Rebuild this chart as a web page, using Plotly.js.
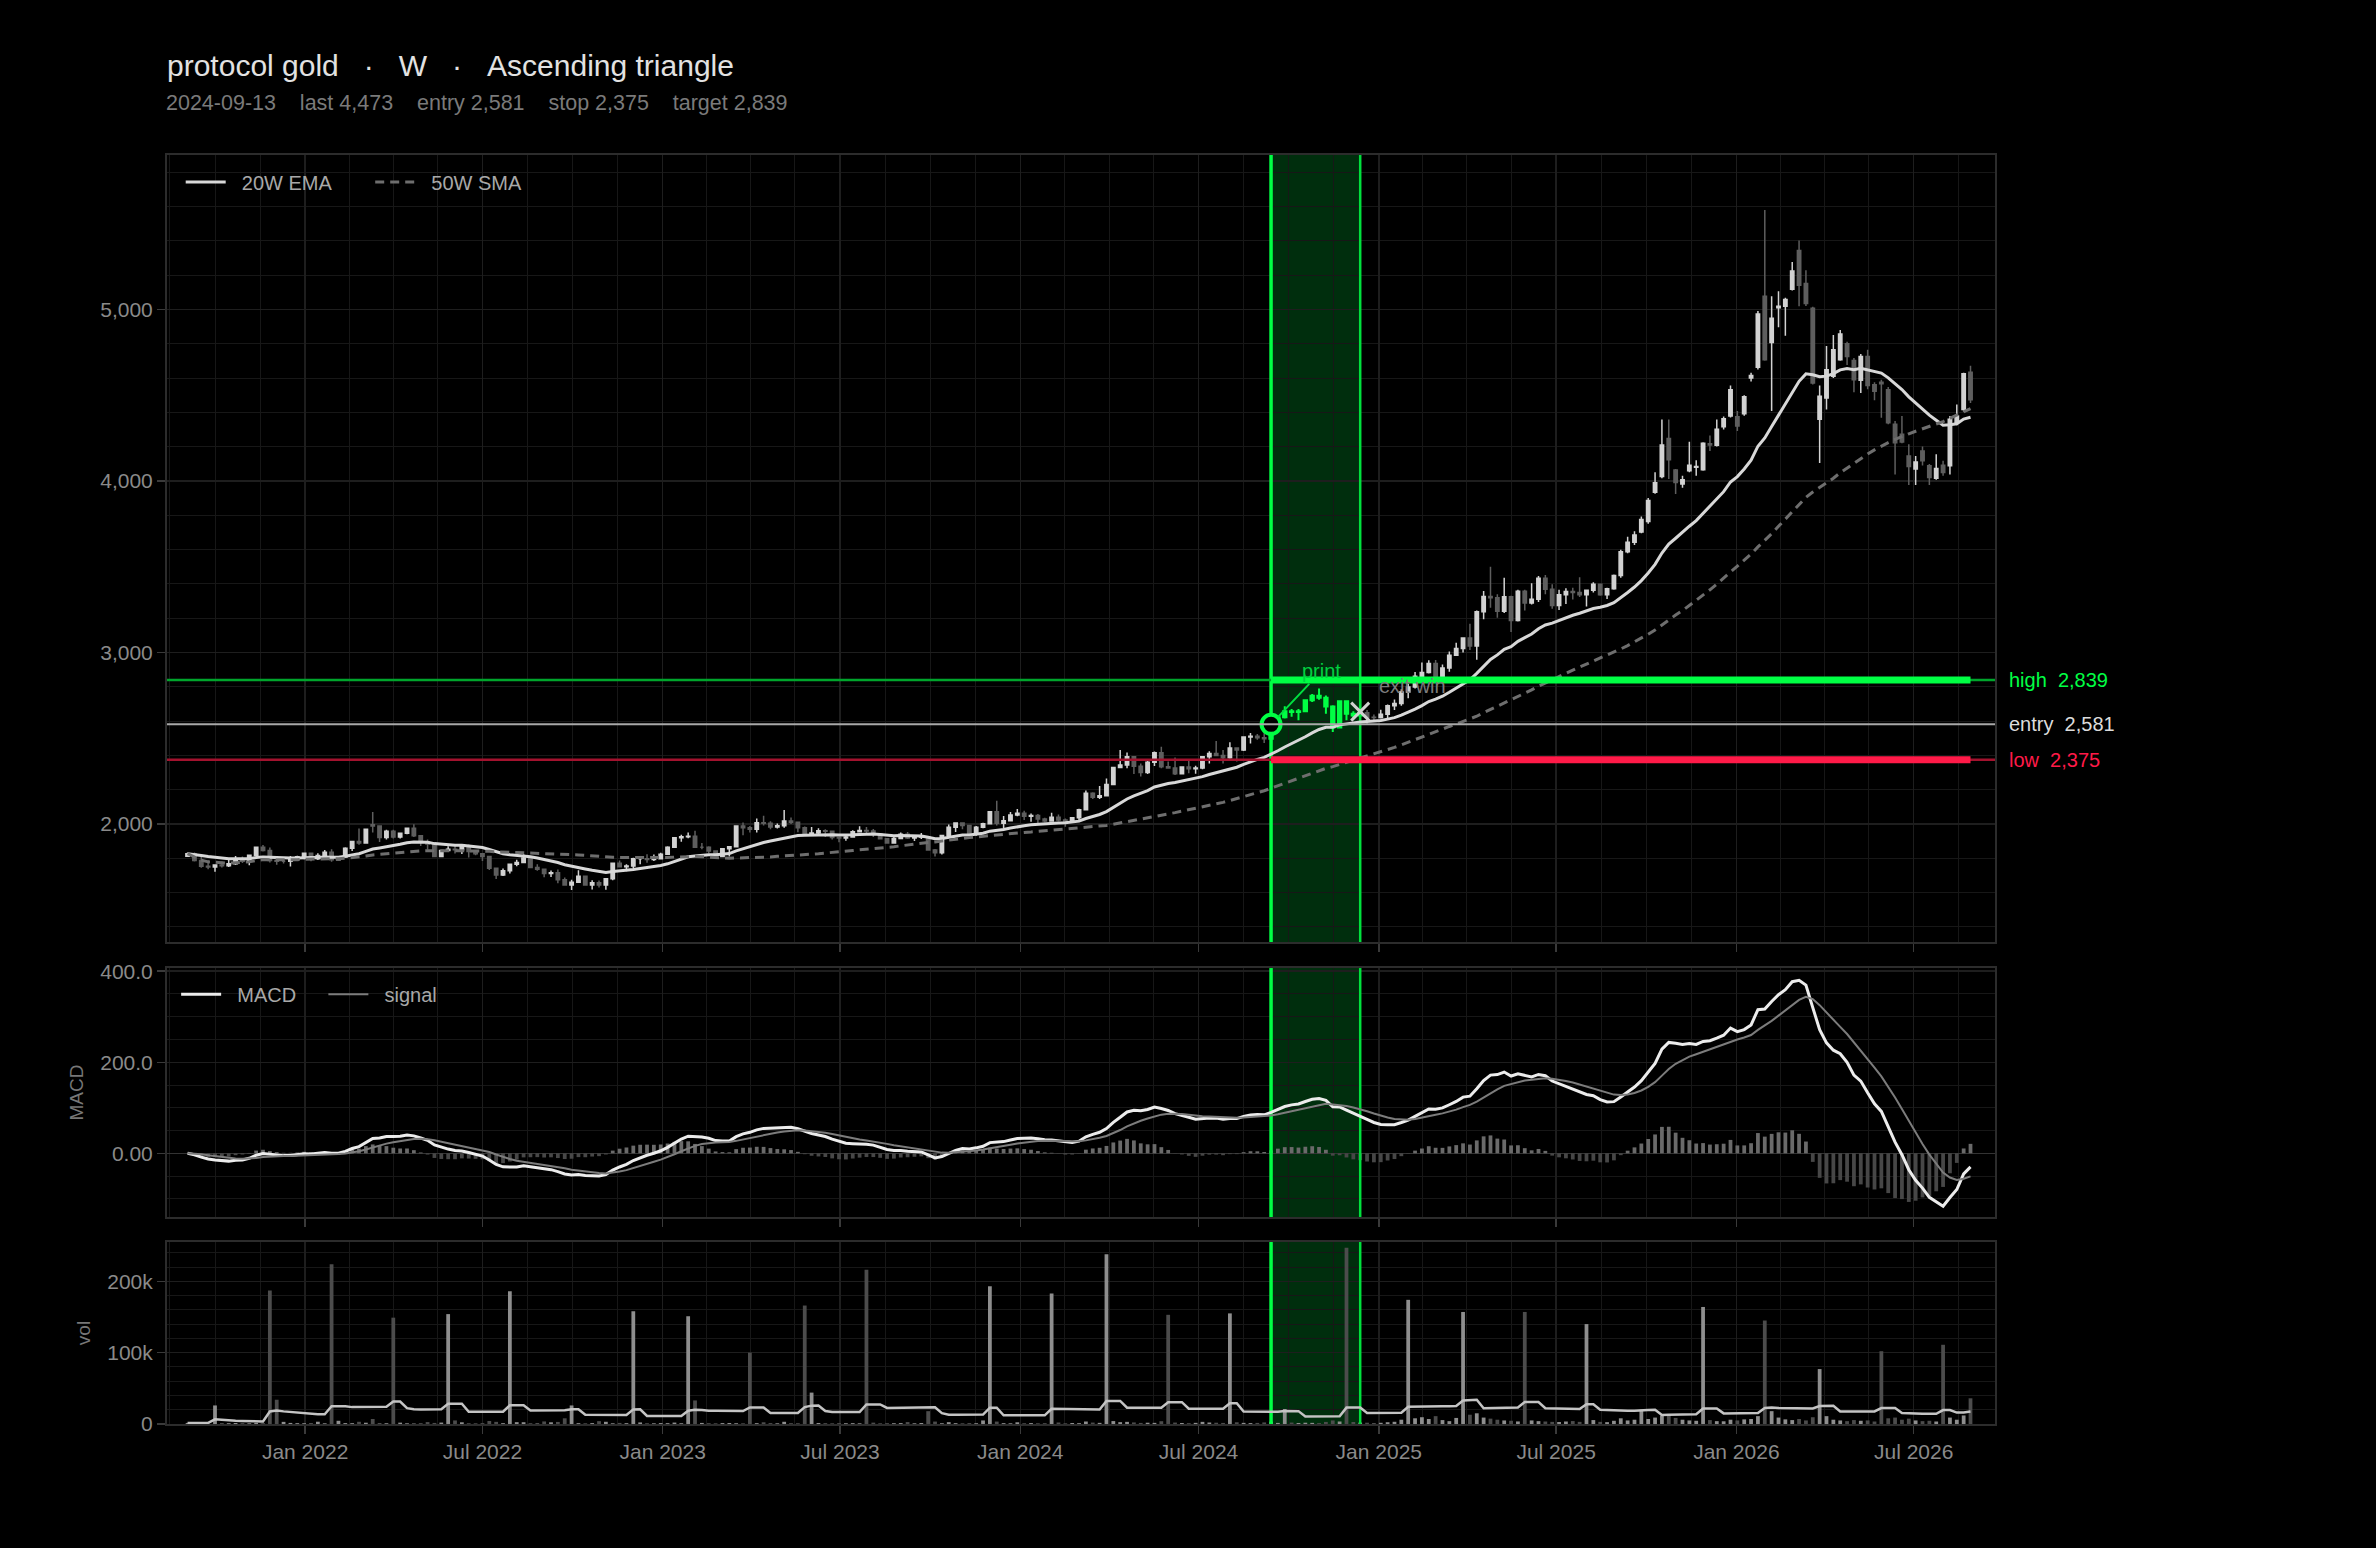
<!DOCTYPE html>
<html>
<head>
<meta charset="utf-8">
<script src="https://cdn.plot.ly/plotly-3.0.1.min.js"></script>
<style>
html,body{margin:0;padding:0;background:#000;}
#chart{width:2376px;height:1548px;}
</style>
</head>
<body>
<div id="chart"></div>
<script>
// ---------------- data (weekly bars, first bar 2021-09-03) ----------------
const START_DATE = '2021-09-03';
const SYMBOL = 'protocol gold';
const TIMEFRAME = 'W';
const PATTERN = 'Ascending triangle';
const ENTRY_DATE = '2024-09-13';
const EXIT_DATE = '2024-12-13';
const ENTRY = 2581, STOP = 2375, TARGET = 2839, EXIT_PRICE = 2655, LAST = 4473;

const open = [
1812,1827,1787,1754,1750,1761,1757,1768,1793,1783,
1818,1865,1846,1788,1783,1783,1798,1809,1829,1797,
1817,1835,1791,1808,1859,1898,1889,1996,1988,1921,
1958,1925,1946,1975,1931,1896,1883,1811,1846,1853,
1850,1871,1840,1827,1811,1742,1703,1727,1766,1775,
1802,1747,1737,1712,1716,1675,1644,1661,1695,1644,
1657,1644,1681,1771,1751,1755,1797,1797,1793,1798,
1824,1865,1920,1926,1928,1865,1865,1842,1811,1856,
1868,1989,1978,1969,2007,2004,1983,1990,2017,2011,
1978,1946,1948,1961,1958,1921,1919,1925,1955,1962,
1959,1943,1914,1889,1915,1940,1919,1924,1925,1848,
1833,1933,1981,2006,1992,1940,1981,2002,2072,2005,
2019,2053,2063,2045,2049,2029,2018,2039,2024,2013,
2036,2083,2179,2156,2165,2230,2329,2344,2392,2337,
2301,2360,2415,2334,2327,2293,2333,2322,2326,2392,
2411,2400,2386,2443,2431,2507,2512,2503,2497,2581,
2622,2658,2653,2657,2721,2747,2736,2685,2563,2715,
2643,2633,2648,2622,2621,2640,2690,2702,2770,2798,
2861,2883,2936,2858,2910,2984,3023,3085,3037,3237,
3327,3319,3241,3325,3187,3357,3289,3310,3432,3368,
3274,3337,3355,3350,3337,3363,3398,3336,3371,3448,
3587,3643,3702,3763,3934,4026,4248,4063,3982,4059,
4080,4065,4217,4208,4316,4378,4374,4391,4600,4662,
5077,4807,5010,5019,5118,5344,5151,5006,4359,4484,
4610,4706,4799,4702,4587,4726,4561,4575,4532,4330,
4272,4146,4069,4175,4088,4015,4092,4088,4339,4417,
4633];

const high = [
1834,1834,1808,1787,1765,1782,1801,1814,1810,1823,
1868,1877,1863,1793,1792,1814,1815,1831,1830,1829,
1848,1853,1810,1865,1902,1974,1974,2070,1990,1966,
1966,1949,1980,1998,1936,1910,1886,1850,1870,1875,
1876,1880,1848,1830,1812,1745,1740,1767,1792,1824,
1803,1765,1740,1729,1735,1688,1675,1730,1697,1672,
1671,1682,1773,1787,1765,1804,1800,1824,1823,1833,
1870,1922,1937,1950,1960,1890,1870,1845,1859,1870,
1990,2009,1988,2032,2048,2016,2003,2081,2038,2014,
1985,1983,1975,1970,1959,1925,1935,1963,1987,1982,
1971,1948,1916,1926,1950,1953,1933,1947,1927,1855,
1935,1997,2009,2008,1993,1988,2008,2075,2135,2047,
2070,2088,2078,2062,2058,2036,2065,2055,2032,2041,
2089,2195,2185,2222,2265,2331,2432,2417,2394,2353,
2378,2422,2450,2364,2388,2335,2368,2340,2392,2424,
2484,2432,2477,2448,2509,2531,2525,2529,2586,2626,
2686,2670,2670,2725,2758,2790,2749,2692,2721,2721,
2657,2726,2664,2638,2666,2697,2726,2786,2817,2886,
2942,2955,2956,2930,3005,3057,3087,3168,3245,3358,
3500,3340,3435,3330,3366,3365,3403,3446,3451,3398,
3365,3375,3377,3438,3363,3409,3400,3378,3454,3599,
3675,3707,3792,3900,4050,4358,4358,4070,4030,4229,
4120,4225,4265,4358,4375,4556,4407,4500,4630,4990,
5580,5077,5106,5068,5276,5402,5228,5016,4556,4787,
4851,4880,4812,4716,4740,4764,4575,4590,4548,4350,
4378,4214,4146,4200,4098,4156,4117,4378,4445,4630,
4672];

const low = [
1808,1782,1745,1737,1722,1746,1750,1761,1772,1759,
1814,1840,1776,1762,1770,1753,1794,1795,1783,1790,
1806,1780,1788,1806,1842,1879,1885,1950,1895,1910,
1915,1915,1940,1925,1872,1850,1808,1807,1845,1828,
1825,1805,1818,1785,1732,1680,1697,1711,1754,1771,
1745,1727,1689,1691,1654,1640,1615,1660,1640,1618,
1630,1617,1672,1750,1724,1741,1765,1774,1785,1795,
1822,1863,1897,1917,1862,1853,1830,1804,1809,1810,
1867,1934,1950,1950,1992,1970,1974,1978,2000,1952,
1932,1940,1938,1925,1910,1893,1902,1920,1952,1942,
1925,1910,1885,1885,1912,1913,1901,1913,1846,1810,
1823,1920,1953,1970,1932,1931,1975,2001,1992,1973,
2016,2045,2024,2013,2002,2011,2017,2016,1984,2010,
2024,2080,2146,2146,2160,2228,2325,2325,2292,2277,
2292,2338,2325,2322,2286,2292,2296,2293,2319,2353,
2398,2353,2380,2364,2426,2470,2491,2472,2472,2546,
2615,2625,2605,2651,2711,2725,2643,2537,2560,2605,
2613,2630,2583,2605,2615,2615,2665,2690,2733,2790,
2832,2877,2832,2832,2888,2982,3000,3015,2957,3194,
3260,3202,3230,3120,3180,3245,3280,3294,3340,3255,
3247,3283,3309,3324,3268,3350,3330,3311,3365,3435,
3578,3627,3695,3750,3925,4015,4011,3924,3960,4050,
4030,4060,4175,4200,4300,4370,4291,4380,4580,4650,
4700,4407,4896,4847,5110,5019,5020,4562,4104,4417,
4600,4700,4676,4517,4513,4534,4471,4368,4330,4038,
4220,3976,3976,4090,3976,4007,4030,4038,4325,4405,
4455];

const close = [
1827,1787,1754,1750,1761,1757,1768,1793,1783,1818,
1865,1846,1788,1783,1783,1798,1809,1829,1797,1817,
1835,1791,1808,1859,1898,1889,1970,1988,1921,1958,
1925,1946,1975,1931,1896,1883,1811,1846,1853,1850,
1871,1840,1827,1811,1742,1703,1727,1766,1775,1802,
1747,1737,1712,1716,1675,1644,1661,1695,1644,1657,
1644,1681,1771,1751,1755,1797,1797,1793,1798,1824,
1865,1920,1926,1928,1865,1865,1842,1811,1856,1868,
1989,1978,1969,2007,2004,1983,1990,2017,2011,1978,
1946,1948,1961,1958,1921,1919,1925,1955,1962,1959,
1943,1914,1889,1915,1940,1919,1924,1925,1848,1833,
1933,1981,2006,1992,1940,1981,2002,2072,2005,2019,
2053,2063,2045,2049,2029,2018,2039,2024,2013,2036,
2083,2179,2156,2165,2230,2329,2344,2392,2337,2301,
2360,2415,2334,2327,2293,2333,2322,2326,2392,2411,
2400,2386,2443,2431,2507,2512,2503,2497,2581,2622,
2658,2653,2657,2721,2747,2736,2685,2563,2715,2643,
2633,2648,2622,2621,2640,2690,2702,2770,2798,2861,
2883,2936,2858,2910,2984,3023,3085,3037,3237,3327,
3319,3241,3325,3187,3357,3289,3310,3432,3368,3274,
3337,3355,3350,3337,3363,3398,3336,3371,3448,3587,
3643,3685,3775,3886,3990,4210,4123,3991,4007,4092,
4084,4219,4210,4301,4362,4532,4320,4490,4615,4973,
4706,4948,5019,5058,5224,5141,5035,4571,4494,4648,
4764,4857,4726,4590,4726,4556,4523,4567,4339,4223,
4227,4084,4111,4117,4020,4073,4049,4359,4378,4625,
4473];

// volume in thousands
const volumeK = [
1.5,1.2,2.8,1.0,26,1.3,1.1,1.4,1.2,1.0,
1.6,1.3,187,34,3.0,1.5,1.2,1.1,1.4,3.2,
1.0,224,4.5,1.3,1.2,3.1,1.8,7.0,1.4,1.1,
149,1.9,1.0,1.3,1.2,2.7,1.5,2.0,154,5.0,
2.4,1.1,1.0,1.3,4.2,3.0,1.2,186,2.6,2.5,
1.1,1.4,3.6,2.4,2.9,8.0,26,1.2,1.0,1.3,
4.0,3.1,1.0,1.5,1.2,158,2.2,1.1,1.0,1.3,
1.2,2.0,1.1,151,33,1.5,1.2,1.0,1.3,1.4,
1.1,1.0,100,1.2,2.4,1.3,1.0,3.1,1.2,1.1,
166,44,1.4,1.2,1.0,1.3,1.1,1.2,1.0,216,
1.9,1.0,1.2,1.1,1.3,2.7,1.0,1.4,18,3.4,
1.1,2.6,1.2,1.0,1.3,1.1,5.0,193,3.4,1.2,
1.0,2.4,1.1,1.3,1.0,1.2,183,2.1,1.0,1.4,
1.2,3.5,2.0,1.6,238,4.1,2.6,3.0,2.2,1.5,
1.8,1.6,3.9,153,2.0,1.4,1.2,1.6,3.0,2.1,
1.8,1.5,155,2.4,1.6,1.3,1.5,2.2,3.3,1.5,
21,2.0,1.4,1.8,1.6,1.3,2.9,5.0,3.5,247,
2.8,2.0,1.8,1.4,1.7,2.5,3.1,6.0,174,8.0,
9.5,7.0,11,5.5,4.0,8.5,157,13,15,9.0,
7.5,6.0,5.0,4.5,3.6,157,5.0,4.0,3.5,3.0,
2.8,3.5,4.1,3.0,140,5.5,3.0,2.6,4.5,8.0,
5.0,6.0,20,7.0,9.0,12,14,8.5,6.0,5.0,
4.5,164,5.5,4.0,3.8,6.0,5.0,6.5,7.0,11,
145,18,9.0,6.5,5.5,7.0,5.0,9.5,77,11,
6.0,5.0,4.0,5.5,4.5,5.0,3.5,102,8.0,9.0,
6.0,7.5,5.0,4.0,4.5,3.5,111,9.0,6.0,12,
36];

// axis ranges
const X_RANGE = ['2021-08-13','2026-09-22'];
const PRICE_RANGE = [1312, 5900];
const MACD_RANGE = [-140, 407];
const VOL_RANGE = [0, 255000];

// ---------------- helpers ----------------
function addDays(s, d){ const t = new Date(s + 'T00:00:00Z'); t.setUTCDate(t.getUTCDate() + d); return t.toISOString().slice(0,10); }
function ema(arr, n){ const a = 2/(n+1); const out = []; arr.forEach((v,i)=>{ out.push(i===0 ? v : a*v + (1-a)*out[i-1]); }); return out; }
function sma(arr, n){ return arr.map((_,i)=>{ const s = arr.slice(Math.max(0,i-n+1), i+1); return s.reduce((p,c)=>p+c,0)/s.length; }); }
function fmt(v){ return v.toLocaleString('en-US'); }

const dates = close.map((_,i)=>addDays(START_DATE, 7*i));
const volume = volumeK.map(v=>v*1000);
const ema20 = ema(close, 20);
const sma50 = sma(close, 50);
const ema12 = ema(close, 12), ema26 = ema(close, 26);
const macd = ema12.map((v,i)=>v - ema26[i]);
const signal = ema(macd, 9);
const hist = macd.map((v,i)=>v - signal[i]);
const volMA = sma(volume, 20);

const iEntry = dates.indexOf(ENTRY_DATE), iExit = dates.indexOf(EXIT_DATE);
const inBand = i => i >= iEntry && i <= iExit;
function pick(arr, cond){ return arr.filter((_,i)=>cond(i)); }

const FONT = 'Liberation Sans, Arial, Helvetica, sans-serif';
const GREEN = '#00ff44', RED = '#ff1a48';
const NB = '\u00a0';
const sp = n => NB.repeat(n);

// ---------------- traces ----------------
const traces = [];
// band edge lines (drawn first so marks sit on top of them)
[['x','y',PRICE_RANGE],['x2','y2',MACD_RANGE],['x3','y3',VOL_RANGE]].forEach(([xa, ya, rg])=>{
  traces.push({type:'scatter', mode:'lines', x:[ENTRY_DATE, ENTRY_DATE], y:rg, line:{color:GREEN, width:3.5}, showlegend:false, hoverinfo:'skip', xaxis:xa, yaxis:ya, cliponaxis:true});
  traces.push({type:'scatter', mode:'lines', x:[EXIT_DATE, EXIT_DATE], y:rg, line:{color:'#00e03c', width:2.5}, showlegend:false, hoverinfo:'skip', xaxis:xa, yaxis:ya, cliponaxis:true});
});
traces.push({type:'candlestick', x:pick(dates,i=>!inBand(i)), open:pick(open,i=>!inBand(i)), high:pick(high,i=>!inBand(i)), low:pick(low,i=>!inBand(i)), close:pick(close,i=>!inBand(i)),
  increasing:{line:{color:'#d2d2d2', width:1.5}, fillcolor:'#d2d2d2'},
  decreasing:{line:{color:'#5e5e5e', width:1.5}, fillcolor:'#5e5e5e'},
  whiskerwidth:0, showlegend:false, hoverinfo:'skip', xaxis:'x', yaxis:'y'});
traces.push({type:'candlestick', x:pick(dates,inBand), open:pick(open,inBand), high:pick(high,inBand), low:pick(low,inBand), close:pick(close,inBand),
  increasing:{line:{color:GREEN, width:2}, fillcolor:GREEN},
  decreasing:{line:{color:GREEN, width:2}, fillcolor:GREEN},
  whiskerwidth:0, showlegend:false, hoverinfo:'skip', xaxis:'x', yaxis:'y'});
traces.push({type:'scatter', mode:'lines', x:dates, y:ema20, name:sp(2)+'20W EMA'+sp(6), line:{color:'#d8d8d8', width:3}, legend:'legend', xaxis:'x', yaxis:'y'});
traces.push({type:'scatter', mode:'lines', x:dates, y:sma50, name:sp(2)+'50W SMA', line:{color:'#6e6e6e', width:3, dash:'9px,6px'}, legend:'legend', xaxis:'x', yaxis:'y'});
traces.push({type:'scatter', mode:'markers', x:[ENTRY_DATE], y:[ENTRY], marker:{symbol:'circle', size:19, color:'#000', line:{color:GREEN, width:4}}, showlegend:false, xaxis:'x', yaxis:'y'});
traces.push({type:'scatter', mode:'markers', x:[EXIT_DATE], y:[EXIT_PRICE], marker:{symbol:'x-thin', size:18, color:'#d0d0d0', line:{color:'#d0d0d0', width:3}}, showlegend:false, xaxis:'x', yaxis:'y'});

traces.push({type:'bar', x:dates, y:hist, marker:{color:hist.map(v=>v>=0?'#6a6a6a':'#474747')}, showlegend:false, xaxis:'x2', yaxis:'y2'});
traces.push({type:'scatter', mode:'lines', x:dates, y:macd, name:sp(2)+'MACD'+sp(4), line:{color:'#ececec', width:3}, legend:'legend2', xaxis:'x2', yaxis:'y2'});
traces.push({type:'scatter', mode:'lines', x:dates, y:signal, name:sp(2)+'signal', line:{color:'#7c7c7c', width:2}, legend:'legend2', xaxis:'x2', yaxis:'y2'});

traces.push({type:'bar', x:dates, y:volume, marker:{color:close.map((c,i)=>c>=open[i]?'#8e8e8e':'#4c4c4c')}, showlegend:false, xaxis:'x3', yaxis:'y3'});
traces.push({type:'scatter', mode:'lines', x:dates, y:volMA, line:{color:'#c4c4c4', width:2.5}, showlegend:false, xaxis:'x3', yaxis:'y3'});

// ---------------- layout ----------------
const xMinor = [];
for (let y = 2021; y <= 2026; y++) for (const md of ['01-01','02-15','04-01','05-16','07-01','08-16','10-01','11-16']) xMinor.push(y + '-' + md);

const GRID = '#1e1e1e', MINOR = '#171717';
const axisBase = {showline:true, mirror:true, linecolor:'#2c2c2c', linewidth:2, gridcolor:GRID, gridwidth:1.5, zeroline:false,
  ticks:'outside', ticklen:8, tickwidth:1.5, tickcolor:'#3a3a3a', tickfont:{color:'#8a8a8a', size:21, family:FONT}};
const minorY = d => ({showgrid:true, gridcolor:MINOR, gridwidth:1, dtick:d, tick0:0});
const xBase = Object.assign({}, axisBase, {type:'date', range:X_RANGE, dtick:'M6', tick0:'2022-01-01', tickformat:'%b %Y',
  minor:{showgrid:true, gridcolor:MINOR, gridwidth:1, tickmode:'array', tickvals:xMinor}});

const D_MAIN = [0.3798, 1], D_MACD = [0.1631, 0.3593], D_VOL = [0, 0.1434];

const shapes = [];
[['x','y domain'],['x2','y2 domain'],['x3','y3 domain']].forEach(([xr, yr])=>{
  shapes.push({type:'rect', xref:xr, yref:yr, x0:ENTRY_DATE, x1:EXIT_DATE, y0:0, y1:1, fillcolor:'rgba(0,255,70,0.18)', line:{width:0}, layer:'below'});
});
shapes.push({type:'line', xref:'x domain', yref:'y', x0:0, x1:1, y0:TARGET, y1:TARGET, line:{color:'#00a52c', width:2.5}, layer:'above'});
shapes.push({type:'line', xref:'x domain', yref:'y', x0:0, x1:1, y0:ENTRY, y1:ENTRY, line:{color:'#a8a8a8', width:2}, layer:'above'});
shapes.push({type:'line', xref:'x domain', yref:'y', x0:0, x1:1, y0:STOP, y1:STOP, line:{color:'#a3122e', width:2.5}, layer:'above'});
shapes.push({type:'line', xref:'x', yref:'y', x0:ENTRY_DATE, x1:dates[dates.length-1], y0:TARGET, y1:TARGET, line:{color:GREEN, width:7}, layer:'above'});
shapes.push({type:'line', xref:'x', yref:'y', x0:ENTRY_DATE, x1:dates[dates.length-1], y0:STOP, y1:STOP, line:{color:RED, width:7}, layer:'above'});

const annotations = [
  {xref:'paper', yref:'paper', x:0, xshift:-3, y:1.041, xanchor:'left', yanchor:'middle', showarrow:false,
   text:`${ENTRY_DATE}${sp(4)}last ${fmt(LAST)}${sp(4)}entry ${fmt(ENTRY)}${sp(4)}stop ${fmt(STOP)}${sp(4)}target ${fmt(TARGET)}`,
   font:{size:21.5, color:'#7a7a7a', family:FONT}},
  {xref:'paper', yref:'y', x:1, xshift:12, y:TARGET, xanchor:'left', yanchor:'middle', showarrow:false, text:'high' + sp(2) + fmt(TARGET), font:{size:20, color:GREEN, family:FONT}},
  {xref:'paper', yref:'y', x:1, xshift:12, y:ENTRY, xanchor:'left', yanchor:'middle', showarrow:false, text:'entry' + sp(2) + fmt(ENTRY), font:{size:20, color:'#dcdcdc', family:FONT}},
  {xref:'paper', yref:'y', x:1, xshift:12, y:STOP, xanchor:'left', yanchor:'middle', showarrow:false, text:'low' + sp(2) + fmt(STOP), font:{size:20, color:RED, family:FONT}},
  {xref:'x', yref:'y', x:ENTRY_DATE, y:ENTRY, text:'print', showarrow:true, arrowhead:0, arrowwidth:2, arrowcolor:'#00e040', ax:50, ay:-53, standoff:10,
   font:{size:20, color:'#00d040', family:FONT}},
  {xref:'x', yref:'y', x:EXIT_DATE, y:EXIT_PRICE, text:'exit win', showarrow:false, xshift:52, yshift:26, font:{size:20, color:'#7c7c7c', family:FONT}}
];

const layout = {
  width:2376, height:1548,
  paper_bgcolor:'#000', plot_bgcolor:'#000',
  font:{family:FONT, color:'#8a8a8a', size:20},
  margin:{l:167, r:381, t:155, b:124},
  title:{text:`${SYMBOL}${sp(3)}·${sp(3)}${TIMEFRAME}${sp(3)}·${sp(3)}${PATTERN}`, x:0, xref:'paper', xanchor:'left', y:1-65/1548, yref:'container', yanchor:'middle',
    font:{size:30, color:'#e2e2e2', family:FONT}},
  showlegend:true,
  legend:{x:0.0075, y:0.994, xanchor:'left', yanchor:'top', orientation:'h', bgcolor:'rgba(0,0,0,0)', font:{size:20, color:'#a8a8a8', family:FONT}, itemwidth:40},
  legend2:{x:0.005, y:0.354, xanchor:'left', yanchor:'top', orientation:'h', bgcolor:'rgba(0,0,0,0)', font:{size:20, color:'#a8a8a8', family:FONT}, itemwidth:40},
  bargap:0.45,
  xaxis:Object.assign({}, xBase, {anchor:'y', showticklabels:false, rangeslider:{visible:false}}),
  xaxis2:Object.assign({}, xBase, {anchor:'y2', matches:'x', showticklabels:false}),
  xaxis3:Object.assign({}, xBase, {anchor:'y3', matches:'x', showticklabels:true}),
  yaxis:Object.assign({}, axisBase, {domain:D_MAIN, range:PRICE_RANGE, dtick:1000, tickformat:',', minor:minorY(200)}),
  yaxis2:Object.assign({}, axisBase, {domain:D_MACD, range:MACD_RANGE, tickmode:'array', tickvals:[0,200,400], ticktext:['0.00','200.0','400.0'], minor:minorY(50),
    zeroline:true, zerolinecolor:'#333', zerolinewidth:1.5,
    title:{text:'MACD', font:{size:19, color:'#777', family:FONT}, standoff:12}}),
  yaxis3:Object.assign({}, axisBase, {domain:D_VOL, range:VOL_RANGE, dtick:100000, tickformat:'~s', minor:minorY(20000),
    title:{text:'vol', font:{size:19, color:'#777', family:FONT}, standoff:12}}),
  shapes:shapes,
  annotations:annotations
};

Plotly.newPlot('chart', traces, layout, {displayModeBar:false, staticPlot:true});
</script>
</body>
</html>
